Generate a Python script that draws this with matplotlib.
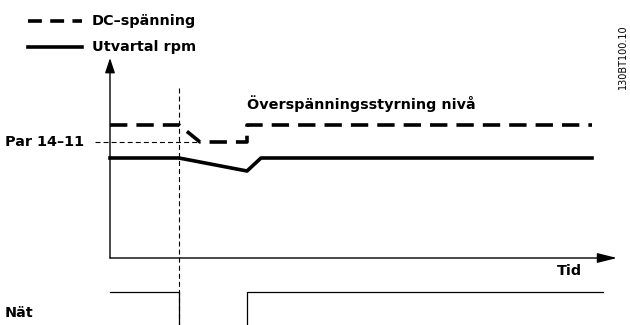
import matplotlib
matplotlib.use("Agg")
import matplotlib.pyplot as plt

plt.rcParams['lines.scale_dashes'] = False
plt.rcParams['font.family'] = 'DejaVu Sans'

# time axis (arbitrary units, 0 = y axis)
t_fail = 69        # mains lost
t_level = 90       # DC reaches Par 14-11
t_back = 137       # mains back
t_speed = 151      # speed restored
t_end = 482

# DC voltage curve
dc_t = [0, t_fail, t_level, t_back, t_back, t_end]
dc_v = [133, 133, 116, 116, 133, 133]
par_14_11 = 116

# motor speed curve
rpm_t = [0, t_fail, t_back, t_speed, t_end]
rpm_v = [100, 100, 87, 100, 100]

# mains signal
mains_t1 = [0, t_fail, t_fail]
mains_v1 = [-34, -34, -67]
mains_t2 = [t_back, t_back, 493]
mains_v2 = [-67, -34, -34]

fig = plt.figure(figsize=(6.3, 3.25), dpi=100)
ax = fig.add_axes([110/630, 67/325, 505/630, 200/325])
ax.set_xlim(0, 505)
ax.set_ylim(0, 200)
ax.axis('off')

dash_big = (12.5, 6.5)
dash_thin = (3.6, 2.2)
txt = dict(fontsize=10.4, fontweight='bold')

# axes with arrows
ax.annotate('', xy=(0, 200), xytext=(0, 0), annotation_clip=False,
            arrowprops=dict(arrowstyle='-|>,head_width=0.3,head_length=0.9',
                            color='black', lw=1.0, shrinkA=0, shrinkB=0))
ax.annotate('', xy=(507, 0), xytext=(0, 0), annotation_clip=False,
            arrowprops=dict(arrowstyle='-|>,head_width=0.3,head_length=1.2',
                            color='black', lw=1.0, shrinkA=0, shrinkB=0))

# curves
ax.plot(dc_t, dc_v, color='black', lw=2.6, dashes=dash_big, clip_on=False)
ax.plot(rpm_t, rpm_v, color='black', lw=2.6, clip_on=False)
ax.plot([-15, t_level], [par_14_11, par_14_11], color='black', lw=0.8,
        dashes=dash_thin, clip_on=False)
ax.plot([t_fail, t_fail], [170, -67], color='black', lw=0.8,
        dashes=dash_thin, clip_on=False)
ax.plot(mains_t1, mains_v1, color='black', lw=0.9, clip_on=False)
ax.plot(mains_t2, mains_v2, color='black', lw=0.9, clip_on=False)

# legend
ax.plot([-82, -28], [237, 237], color='black', lw=2.6, dashes=(10, 6),
        clip_on=False)
ax.plot([-82, -28], [211, 211], color='black', lw=2.6, clip_on=False)
ax.text(-18, 237, 'DC\u2013spänning', va='center', ha='left', **txt)
ax.text(-18, 211, 'Utvartal rpm', va='center', ha='left', **txt)

# labels
ax.text(137, 146, 'Överspänningsstyrning nivå', va='bottom', ha='left', **txt)
ax.text(-105, par_14_11, 'Par 14\u201311', va='center', ha='left', **txt)
ax.text(472, -6, 'Tid', va='top', ha='right', **txt)
ax.text(-105, -55, 'Nät', va='center', ha='left', **txt)
ax.text(513, 201, '130BT100.10', fontsize=7, rotation=90, va='center',
        ha='center')

fig.savefig('out.png', dpi=100)
